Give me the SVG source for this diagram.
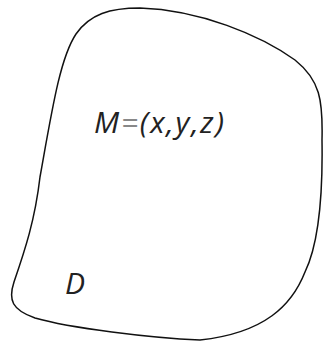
<svg xmlns="http://www.w3.org/2000/svg" width="324" height="342" viewBox="0 0 324 342">
<style>
.outline{fill:none;stroke:#111;stroke-width:1.5}
.lbl{font-family:"Open Sans","DejaVu Sans",sans-serif;font-style:italic;font-size:30px;fill:#222}
.eq{fill:#888}
</style>
<rect width="324" height="342" fill="#fff"/>
<g id="region-D">
<path class="outline" d="M 140,8 C 200,10 260,35 295,60 C 320,80 323,100 322,140 C 323,200 318,245 305,272 C 292,305 265,333 200,340 C 150,338 70,328 35,318 C 12,310 8,300 14,282 C 25,250 35,220 40,177 C 52,110 60,58 76,34 C 90,14 110,8 140,8 Z"/>
<text class="lbl" x="65" y="294">D</text>
</g>
<g id="point-M">
<text class="lbl" x="94" y="133" textLength="130" lengthAdjust="spacing">M<tspan class="eq">=</tspan>(x,y,z)</text>
</g>
</svg>
